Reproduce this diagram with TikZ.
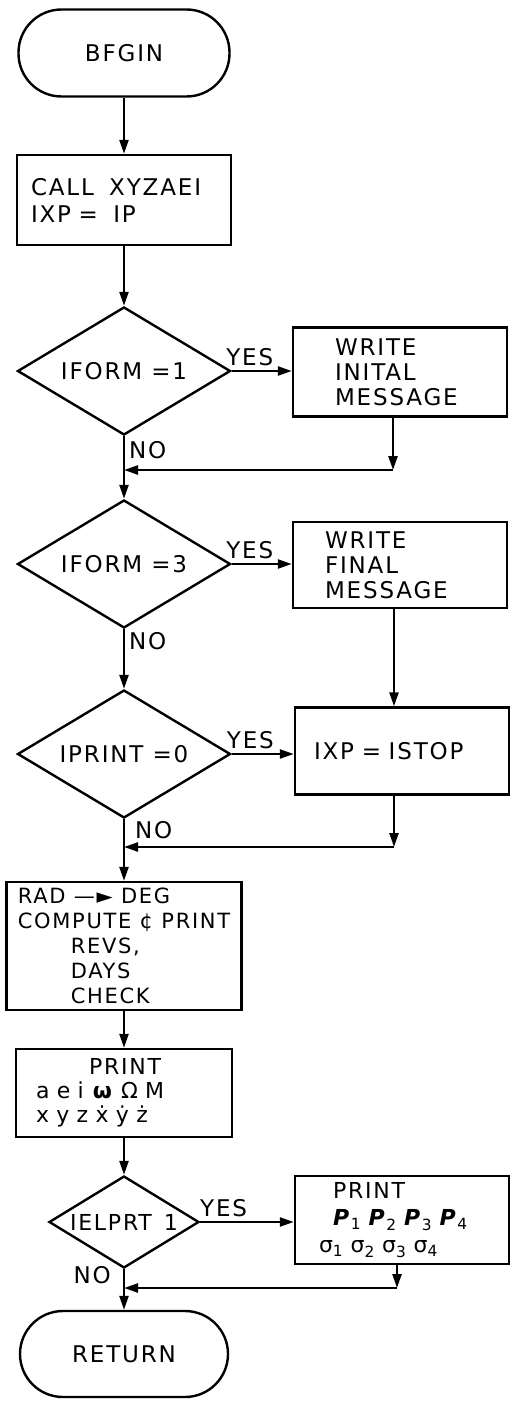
\documentclass[tikz,border=0pt]{standalone}
\usepackage{fontspec}
\setmainfont{DejaVu Sans}[LetterSpace=8]
\usepackage{tikz}
\usetikzlibrary{shapes, arrows.meta}

\begin{document}
\begin{tikzpicture}[x=1pt, y=-1pt, line width=2.4pt, >={Triangle[length=14pt,width=9pt]}, font=\fontsize{23}{25}\selectfont]
\tikzstyle{term}=[draw, rounded corners=43pt, minimum width=211pt, minimum height=87pt]
\tikzstyle{box}=[draw, minimum width=214pt, minimum height=88pt, align=left]
\tikzstyle{test}=[draw, diamond, aspect=1.65, inner sep=0pt, minimum width=213pt, minimum height=128pt]
\tikzstyle{lbl}=[inner sep=4pt]
\useasboundingbox (0,0) rectangle (518,1407);
\node[term] (B_0) at (124,53) {BFGIN};
\node[box, minimum height=90pt, text width=186pt, inner xsep=14pt] (S_1) at (124,200) {CALL\ \ XYZAEI\\[2pt]IXP =\ \ IP};
\node[test] (D_1) at (124,371) {IFORM =1};
\node[box, minimum height=89pt, text width=130pt, inner xsep=42pt] (W_1) at (400,372) {WRITE\\INITAL\\MESSAGE};
\coordinate (C_1) at (393,470);
\coordinate (J_1) at (124,470);
\node[test] (D_2) at (124,564) {IFORM =3};
\node[box, minimum height=86pt, text width=150pt, inner xsep=32pt] (W_2) at (400,565) {WRITE\\FINAL\\MESSAGE};
\node[test] (D_3) at (124,754) {IPRINT =0};
\node[box, minimum height=87pt, text width=176pt, inner xsep=19pt] (W_3) at (402,751) {IXP = ISTOP};
\coordinate (C_2) at (394,847);
\coordinate (J_2) at (124,847);
\node[box, minimum width=235pt, minimum height=128pt, font=\fontsize{21}{25}\selectfont] (S_3) at (124,946) {RAD —► DEG\\COMPUTE ¢ PRINT\\\hspace*{53pt}REVS,\\\hspace*{53pt}DAYS\\\hspace*{53pt}CHECK};
\node[box, text width=176pt, inner xsep=20pt, font=\fontsize{22}{24}\selectfont] (S_4) at (124,1093) {\hspace*{53pt}PRINT\\a e i \textbf{ω} Ω M\\x y z \.{x} \.{y} \.{z}};
\node[test, aspect=1.7, minimum width=150pt, minimum height=92pt, font=\fontsize{22}{24}\selectfont] (D_4) at (124,1222) {IELPRT\hspace{12pt}1};
\node[box, text width=166pt, inner xsep=24pt, font=\fontsize{22}{27}\selectfont] (W_4) at (402,1220) {\hspace*{14pt}PRINT\\\hspace*{14pt}\textbf{\textit{P}}\textsubscript{1} \textbf{\textit{P}}\textsubscript{2} \textbf{\textit{P}}\textsubscript{3} \textbf{\textit{P}}\textsubscript{4}\\σ\textsubscript{1} σ\textsubscript{2} σ\textsubscript{3} σ\textsubscript{4}};
\coordinate (C_3) at (397,1288);
\coordinate (J_3) at (124,1288);
\node[term, minimum width=208pt, minimum height=86pt] (E_0) at (124,1354) {RETURN};
% main line
\draw[->] (B_0) -- (S_1);
\draw[->] (S_1) -- (D_1);
\draw (D_1.south) -- node[right, pos=0.4, lbl] (N_1) {NO} (J_1);
\draw[->] (J_1) -- (D_2);
\draw[->] (D_2.south) -- node[right, pos=0.2, lbl] (N_2) {NO} (D_3.north);
\draw (D_3.south) -- node[right, pos=0.4, lbl, xshift=6pt] (N_3) {NO} (J_2);
\draw[->] (J_2) -- (S_3);
\draw[->] (S_3) -- (S_4);
\draw[->] (S_4) -- (D_4);
\draw (D_4.south) -- node[left, pos=0.3, lbl, xshift=-8pt] (N_4) {NO} (J_3);
\draw[->] (J_3) -- (E_0);
% yes branches
\draw[->] (D_1.east) -- node[above, pos=0.3, lbl] (Y_1) {YES} (D_1.east -| W_1.west);
\draw[->] (W_1.south -| C_1) -- (C_1);
\draw[->] (C_1) -- (J_1);
\draw[->] (D_2.east) -- node[above, pos=0.3, lbl] (Y_2) {YES} (D_2.east -| W_2.west);
\draw[->] (W_2.south -| C_2) -- (W_3.north -| C_2);
\draw[->] (D_3.east) -- node[above, pos=0.3, lbl] (Y_3) {YES} (D_3.east -| W_3.west);
\draw[->] (W_3.south -| C_2) -- (C_2);
\draw[->] (C_2) -- (J_2);
\draw[->] (D_4.east) -- node[above, pos=0.25, lbl] (Y_4) {YES} (D_4.east -| W_4.west);
\draw[->] (W_4.south -| C_3) -- (C_3);
\draw[->] (C_3) -- (J_3);
\end{tikzpicture}
\end{document}
